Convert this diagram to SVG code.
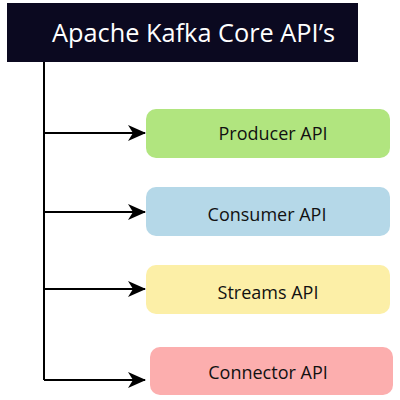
<svg xmlns="http://www.w3.org/2000/svg" width="400" height="400" viewBox="0 0 400 400">
<defs>
<style>
.lbl{font-family:"Open Sans","Liberation Sans",sans-serif;font-size:18px;fill:#111;text-anchor:middle}
.con{stroke:#000;stroke-width:2;fill:none}
</style>
<marker id="ah" markerWidth="18" markerHeight="16" viewBox="0 0 18 16" refX="17" refY="8" orient="auto" markerUnits="userSpaceOnUse">
<path d="M0,0 L18,8 L0,16 L5,8 Z" fill="#000"/>
</marker>
</defs>
<rect width="400" height="400" fill="#fff"/>
<g id="header">
<rect x="7" y="3" width="351" height="59" fill="#0b0920"/>
<text x="52" y="42" font-family="Open Sans, Liberation Sans, sans-serif" font-size="26" fill="#fff" textLength="283" lengthAdjust="spacingAndGlyphs">Apache Kafka Core API’s</text>
</g>
<g id="connectors">
<path class="con" d="M44,62 V380"/>
<path class="con" d="M44,133 H145" marker-end="url(#ah)"/>
<path class="con" d="M44,212 H145" marker-end="url(#ah)"/>
<path class="con" d="M44,289 H145" marker-end="url(#ah)"/>
<path class="con" d="M44,380 H145" marker-end="url(#ah)"/>
</g>
<g id="producer">
<rect x="146" y="109" width="244" height="49" rx="10" fill="#b1e57f"/>
<text class="lbl" x="273" y="140">Producer API</text>
</g>
<g id="consumer">
<rect x="146" y="187" width="244" height="49" rx="10" fill="#b5d8e8"/>
<text class="lbl" x="267" y="221">Consumer API</text>
</g>
<g id="streams">
<rect x="146" y="265" width="244" height="49" rx="10" fill="#fcefa7"/>
<text class="lbl" x="268" y="299">Streams API</text>
</g>
<g id="connector">
<rect x="150" y="347" width="243" height="48" rx="10" fill="#fcaeae"/>
<text class="lbl" x="268" y="379">Connector API</text>
</g>
</svg>
